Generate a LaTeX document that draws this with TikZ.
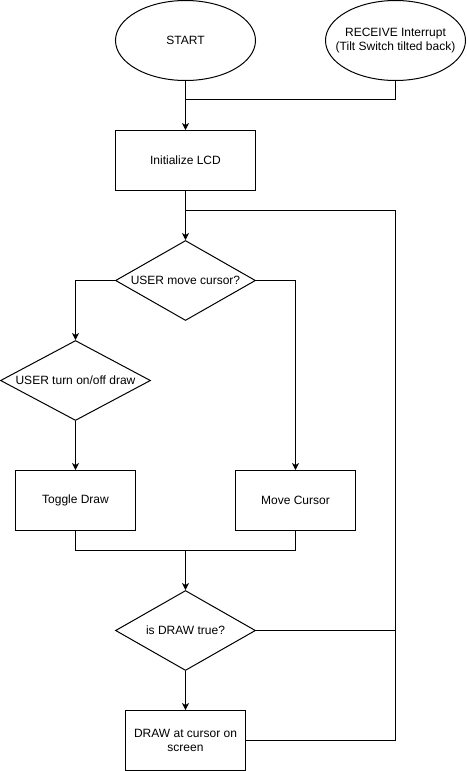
\documentclass[tikz,border=0pt]{standalone}
\usepackage{fontspec}
\setmainfont{Liberation Sans}
\usetikzlibrary{shapes.geometric,arrows.meta}
\begin{document}
\begin{tikzpicture}[x=1pt,y=-1pt,
  every node/.style={font=\fontsize{12}{14}\selectfont, inner sep=0pt, align=center},
  every label/.style={font=\fontsize{12}{14}\selectfont, inner sep=0pt, align=center},
  oval/.style={draw, line width=1pt, ellipse, minimum width=140pt, minimum height=80pt},
  box/.style={draw, line width=1pt, rectangle, minimum width=120pt, minimum height=60pt},
  dec/.style={draw, line width=1pt, diamond, minimum width=140pt, minimum height=80pt},
  conn/.style={line width=1pt},
  arr/.style={conn, -{Stealth[length=7pt,width=7pt,inset=2pt]}}]
\useasboundingbox (0,0) rectangle (466,771);
\node[oval, label=center:{START}] (start) at (185.5,40.5) {};
\node[oval, label=center:{RECEIVE Interrupt\\(Tilt Switch tilted back)}] (recv) at (395.5,40.5) {};
\node[box, minimum width=140pt] (init) at (185.5,160.5) {Initialize LCD};
\node[dec, label=center:{USER move cursor?}] (d1) at (185.5,280.5) {};
\node[dec, minimum width=150pt, label=center:{USER turn on/off draw}] (d2) at (75.5,380.5) {};
\node[box] (toggle) at (75.5,500.5) {Toggle Draw};
\node[box] (move) at (295.5,500.5) {Move Cursor};
\node[dec, label=center:{is DRAW true?}] (d3) at (185.5,630.5) {};
\node[box] (drawbox) at (185.5,740.5) {DRAW at cursor on\\screen};
\coordinate (j1) at (185.5,99.5);
\coordinate (j2) at (185.5,210.5);
\coordinate (c1) at (395.5,210.5);
\coordinate (j3) at (395.5,630.5);
\coordinate (j4) at (185.5,550.5);
\draw[arr] (start.south) -- (init.north);
\draw[conn] (recv.south) |- (j1);
\draw[arr] (init.south) -- (d1.north);
\draw[conn] (drawbox.east) -| (c1) -- (j2);
\draw[conn] (d3.east) -- (j3);
\draw[arr] (d1.west) -| (d2.north);
\draw[arr] (d1.east) -| (move.north);
\draw[arr] (d2.south) -- (toggle.north);
\draw[conn] (toggle.south) |- (j4) -| (move.south);
\draw[arr] (j4) -- (d3.north);
\draw[arr] (d3.south) -- (drawbox.north);
\end{tikzpicture}
\end{document}
